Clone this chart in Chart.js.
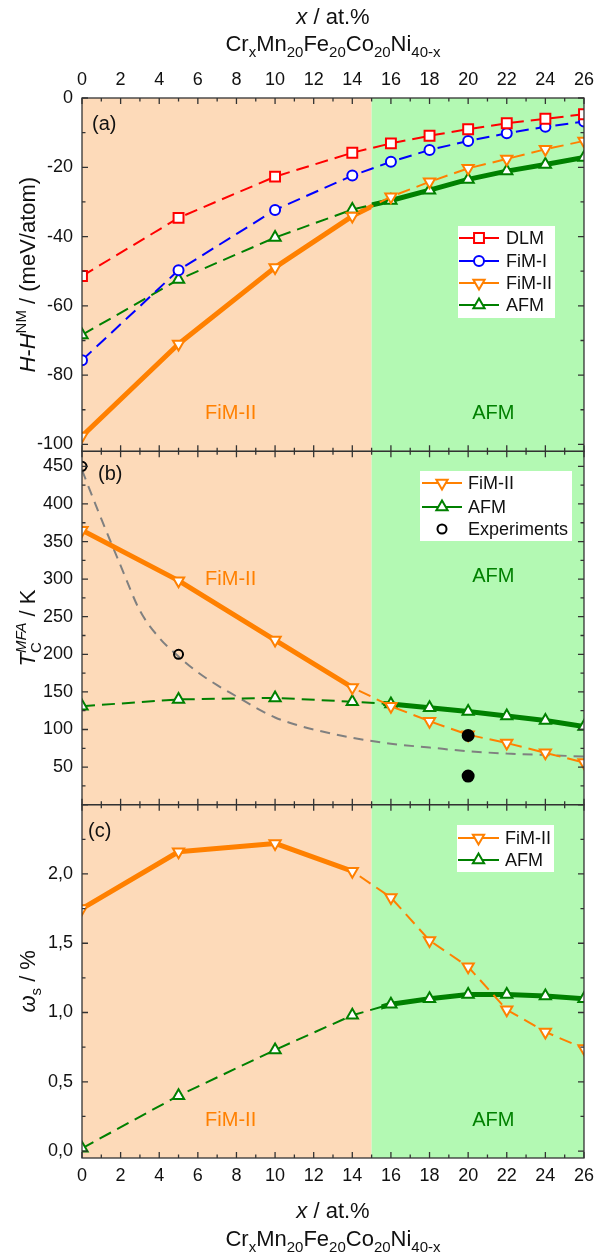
<!DOCTYPE html>
<html>
<head>
<meta charset="utf-8">
<script src="https://cdn.jsdelivr.net/npm/chart.js@4/dist/chart.umd.min.js"></script>
<style>
  html, body { margin: 0; padding: 0; background: #fff; }
</style>
</head>
<body>
<canvas id="myChart" width="601" height="1257"></canvas>
<script>
const ORANGE = '#FF8000', GREEN = '#008000', RED = '#FF0000', BLUE = '#0000FF', GRAY = '#808080';
const PEACH = '#FDDAB9', LIME = '#B3F9B3';
const FONT = '"Liberation Sans", Arial, sans-serif';

// data, x in at.%
const xVals = [0, 5, 10, 14, 16, 18, 20, 22, 24, 26];
const xTicks = [0, 2, 4, 6, 8, 10, 12, 14, 16, 18, 20, 22, 24, 26];
const phaseBoundary = 15;

// (a) H - H^NM (meV/atom)
const dlmA  = [-51.4, -34.6, -22.7, -15.8, -13.1, -10.9, -9.0, -7.3, -6.0, -4.7];
const fim1A = [-75.7, -49.7, -32.3, -22.4, -18.4, -15.0, -12.4, -10.2, -8.3, -6.8];
const fim2A = [-97.6, -71.0, -48.9, -34.1, -28.5, -24.2, -20.3, -17.6, -14.8, -12.4];
const afmA  = [-68.4, -52.4, -40.3, -32.2, -29.6, -26.6, -23.5, -21.1, -19.2, -17.2];
const yTicksA = [-100, -80, -60, -40, -20, 0];

// (b) T_C^MFA (K)
const fim2B = [365, 298, 219, 156, 131, 111, 93, 82, 69, 56];
const afmB  = [131, 140, 142, 137, 134, 129, 124, 118, 112, 104];
const expX = [0, 5, 20, 20];
const expY = [450, 200, 92, 38];
const expFilled = [false, false, true, true];
const fitX = [0, 1, 2, 3, 4, 5, 6, 7, 8, 9, 10, 11, 12, 14, 16, 18, 20, 22, 24, 26];
const fitY = [445, 380, 318, 258, 222, 197, 176, 159, 144, 129, 116, 107, 100, 89, 81, 76, 71, 68, 66, 64];
const yTicksB = [50, 100, 150, 200, 250, 300, 350, 400, 450];

// (c) omega_s (%)
const fim2C = [1.75, 2.16, 2.22, 2.02, 1.83, 1.52, 1.33, 1.02, 0.86, 0.74];
const afmC  = [0.02, 0.40, 0.73, 0.98, 1.06, 1.10, 1.13, 1.13, 1.12, 1.10];
const yTicksC = [0, 0.5, 1, 1.5, 2];

function pts(xs, ys) { return xs.map((x, i) => ({x: x, y: ys[i]})); }

function thick(ys, color, axis, from, to) {
  return {data: pts(xVals, ys), yAxisID: axis, borderColor: color, borderWidth: 5,
    pointRadius: 0, clipX: [from, to], order: 5, borderJoinStyle: 'round'};
}
function dashed(key, label, ys, color, style, rot, r, axis) {
  return {key: key, label: label, data: pts(xVals, ys), yAxisID: axis, borderColor: color,
    borderWidth: 2, borderDash: [13, 7], pointStyle: style, pointRotation: rot, pointRadius: r,
    pointBorderWidth: 2, pointBackgroundColor: '#fff', pointBorderColor: color, order: 1};
}

const datasets = [
  // (a)
  thick(fim2A, ORANGE, 'ya', 0, 15),
  thick(afmA, GREEN, 'ya', 15, 26),
  dashed('dlmA', 'DLM', dlmA, RED, 'rect', 0, 7, 'ya'),
  dashed('fim1A', 'FiM-I', fim1A, BLUE, 'circle', 0, 5, 'ya'),
  dashed('fim2A', 'FiM-II', fim2A, ORANGE, 'triangle', 180, 6.5, 'ya'),
  dashed('afmA', 'AFM', afmA, GREEN, 'triangle', 0, 6.5, 'ya'),
  // (b)
  {data: pts(fitX, fitY), yAxisID: 'yb', borderColor: GRAY, borderWidth: 2, borderDash: [10, 7],
    pointRadius: 0, cubicInterpolationMode: 'monotone', order: 6},
  thick(fim2B, ORANGE, 'yb', 0, 14),
  thick(afmB, GREEN, 'yb', 15.6, 26),
  dashed('fim2B', 'FiM-II', fim2B, ORANGE, 'triangle', 180, 6.5, 'yb'),
  dashed('afmB', 'AFM', afmB, GREEN, 'triangle', 0, 6.5, 'yb'),
  {key: 'exp', label: 'Experiments', data: pts(expX, expY), yAxisID: 'yb', showLine: false,
    borderColor: '#000', pointBorderColor: '#000', pointBorderWidth: 2, pointStyle: 'circle',
    pointRadius: expFilled.map(f => f ? 5.5 : 4.5),
    pointBackgroundColor: expFilled.map(f => f ? '#000' : 'rgba(0,0,0,0)'), order: 0},
  // (c)
  thick(fim2C, ORANGE, 'yc', 0, 14),
  thick(afmC, GREEN, 'yc', 15.5, 26),
  dashed('fim2C', 'FiM-II', fim2C, ORANGE, 'triangle', 180, 6.5, 'yc'),
  dashed('afmC', 'AFM', afmC, GREEN, 'triangle', 0, 6.5, 'yc'),
];

const panels = [
  {id: 'ya', minor: 10, tag: '(a)', tagDx: 10, tagDy: 32},
  {id: 'yb', minor: 25, tag: '(b)', tagDx: 16, tagDy: 29},
  {id: 'yc', minor: 0.25, tag: '(c)', tagDx: 6, tagDy: 32},
];

const regionLabels = [
  {axis: 'ya', x: 7.7, y: -91, text: 'FiM-II', color: ORANGE},
  {axis: 'ya', x: 21.3, y: -91, text: 'AFM', color: GREEN},
  {axis: 'yb', x: 7.7, y: 299, text: 'FiM-II', color: ORANGE},
  {axis: 'yb', x: 21.3, y: 303, text: 'AFM', color: GREEN},
  {axis: 'yc', x: 7.7, y: 0.22, text: 'FiM-II', color: ORANGE},
  {axis: 'yc', x: 21.3, y: 0.22, text: 'AFM', color: GREEN},
];

const legends = [
  {box: [458, 226, 97, 92], x0: 459, x1: 499, tx: 506, rows: [238, 261, 283, 305],
    keys: ['dlmA', 'fim1A', 'fim2A', 'afmA']},
  {box: [420, 471, 152, 70], x0: 422, x1: 462, tx: 468, rows: [483, 507, 529],
    keys: ['fim2B', 'afmB', 'exp']},
  {box: [457, 825, 97, 47], x0: 458, x1: 499, tx: 505, rows: [838, 860],
    keys: ['fim2C', 'afmC']},
];

const xTitle = [{t: 'x', i: 1}, {t: ' / at.%'}];
const formula = [{t: 'Cr'}, {t: 'x', s: 'sub'}, {t: 'Mn'}, {t: '20', s: 'sub'}, {t: 'Fe'},
  {t: '20', s: 'sub'}, {t: 'Co'}, {t: '20', s: 'sub'}, {t: 'Ni'}, {t: '40-x', s: 'sub'}];
const yTitles = {
  ya: [{t: 'H', i: 1}, {t: '-'}, {t: 'H', i: 1}, {t: 'NM', s: 'sup'}, {t: ' / (meV/atom)'}],
  yb: [{t: 'T', i: 1}, {t: 'C', s: 'sub'}, {t: 'MFA', s: 'sup', i: 1, over: 1}, {t: ' / K'}],
  yc: [{t: 'ω', i: 1}, {t: 's', s: 'sub'}, {t: ' / %'}],
};

function drawRich(ctx, runs, cx, cy, size, rotate) {
  ctx.save();
  ctx.translate(cx, cy);
  if (rotate) ctx.rotate(-Math.PI / 2);
  let x = 0, prevStart = 0, prevEnd = 0;
  const laid = [];
  for (const r of runs) {
    const fs = r.s ? Math.round(size * 0.68) : size;
    ctx.font = (r.i ? 'italic ' : '') + fs + 'px ' + FONT;
    const w = ctx.measureText(r.t).width;
    const start = r.over ? prevStart : x;
    const end = start + w;
    laid.push({r: r, start: start, font: ctx.font});
    x = r.over ? Math.max(prevEnd, end) : end;
    prevStart = start; prevEnd = end;
  }
  ctx.textAlign = 'left';
  ctx.textBaseline = 'alphabetic';
  ctx.fillStyle = '#111';
  for (const l of laid) {
    ctx.font = l.font;
    const dy = l.r.s === 'sub' ? size * 0.28 : (l.r.s === 'sup' ? -size * 0.42 : 0);
    ctx.fillText(l.r.t, l.start - x / 2, dy);
  }
  ctx.restore();
}

function drawMarker(ctx, ds, x, y) {
  const r = Array.isArray(ds.pointRadius) ? ds.pointRadius[0] : ds.pointRadius;
  ctx.beginPath();
  if (ds.pointStyle === 'rect') {
    const s = r * Math.SQRT1_2;
    ctx.rect(x - s, y - s, 2 * s, 2 * s);
  } else if (ds.pointStyle === 'triangle') {
    const d = ds.pointRotation === 180 ? -1 : 1;
    ctx.moveTo(x, y - d * r);
    ctx.lineTo(x + r * 0.866, y + d * r * 0.5);
    ctx.lineTo(x - r * 0.866, y + d * r * 0.5);
    ctx.closePath();
  } else {
    ctx.arc(x, y, r, 0, 2 * Math.PI);
  }
  ctx.fillStyle = Array.isArray(ds.pointBackgroundColor) ? ds.pointBackgroundColor[0] : ds.pointBackgroundColor;
  ctx.fill();
  ctx.setLineDash([]);
  ctx.lineWidth = ds.pointBorderWidth;
  ctx.strokeStyle = ds.pointBorderColor;
  ctx.stroke();
}

const panelPlugin = {
  id: 'panels',
  beforeDatasetsDraw(chart) {
    const ctx = chart.ctx, xs = chart.scales.x;
    const xb = xs.getPixelForValue(phaseBoundary);
    ctx.save();
    for (const p of panels) {
      const ys = chart.scales[p.id];
      ctx.fillStyle = PEACH;
      ctx.fillRect(xs.left, ys.top, xb - xs.left, ys.bottom - ys.top);
      ctx.fillStyle = LIME;
      ctx.fillRect(xb, ys.top, xs.right - xb, ys.bottom - ys.top);
    }
    ctx.font = '20px ' + FONT;
    ctx.textAlign = 'center';
    ctx.textBaseline = 'middle';
    for (const l of regionLabels) {
      ctx.fillStyle = l.color;
      ctx.fillText(l.text, xs.getPixelForValue(l.x), chart.scales[l.axis].getPixelForValue(l.y));
    }
    ctx.restore();
  },
  beforeDatasetDraw(chart, args) {
    const ds = chart.data.datasets[args.index];
    if (!ds.clipX) return;
    const ctx = chart.ctx, xs = chart.scales.x, ys = chart.scales[ds.yAxisID];
    const a = xs.getPixelForValue(ds.clipX[0]), b = xs.getPixelForValue(ds.clipX[1]);
    ctx.save();
    ctx.beginPath();
    ctx.rect(a, ys.top, b - a, ys.bottom - ys.top);
    ctx.clip();
  },
  afterDatasetDraw(chart, args) {
    if (chart.data.datasets[args.index].clipX) chart.ctx.restore();
  },
  afterDatasetsDraw(chart) {
    const ctx = chart.ctx, xs = chart.scales.x;
    ctx.save();
    ctx.strokeStyle = '#333';
    ctx.lineWidth = 1.3;
    for (const p of panels) {
      const ys = chart.scales[p.id];
      const L = xs.left, R = xs.right, T = ys.top, B = ys.bottom;
      ctx.beginPath();
      for (let v = xs.min; v <= xs.max + 1e-9; v += 1) {
        const px = xs.getPixelForValue(v);
        const len = v % 2 === 0 ? 6 : 3.5;
        ctx.moveTo(px, T); ctx.lineTo(px, T + len);
        ctx.moveTo(px, B); ctx.lineTo(px, B - len);
      }
      const first = Math.ceil(ys.min / p.minor) * p.minor;
      for (let v = first; v <= ys.max + 1e-9; v += p.minor) {
        const py = ys.getPixelForValue(v);
        const q = v / (2 * p.minor);
        const len = Math.abs(q - Math.round(q)) < 1e-6 ? 6 : 3.5;
        ctx.moveTo(L, py); ctx.lineTo(L + len, py);
        ctx.moveTo(R, py); ctx.lineTo(R - len, py);
      }
      ctx.stroke();
      ctx.strokeRect(L, T, R - L, B - T);
      ctx.fillStyle = '#111';
      ctx.font = '20px ' + FONT;
      ctx.textAlign = 'left';
      ctx.textBaseline = 'alphabetic';
      ctx.fillText(p.tag, L + p.tagDx, T + p.tagDy);
    }
    // legends
    for (const lg of legends) {
      ctx.fillStyle = '#fff';
      ctx.fillRect(lg.box[0], lg.box[1], lg.box[2], lg.box[3]);
      lg.keys.forEach((k, i) => {
        const ds = chart.data.datasets.find(d => d.key === k);
        const y = lg.rows[i];
        if (ds.showLine !== false) {
          ctx.setLineDash([]);
          ctx.strokeStyle = ds.borderColor;
          ctx.lineWidth = 2;
          ctx.beginPath();
          ctx.moveTo(lg.x0, y); ctx.lineTo(lg.x1, y);
          ctx.stroke();
        }
        drawMarker(ctx, ds, (lg.x0 + lg.x1) / 2, y);
        ctx.fillStyle = '#111';
        ctx.font = '18px ' + FONT;
        ctx.textAlign = 'left';
        ctx.textBaseline = 'middle';
        ctx.fillText(ds.label, lg.tx, y + 1);
      });
    }
    ctx.restore();
  },
  afterDraw(chart) {
    const ctx = chart.ctx, xs = chart.scales.x;
    const cx = (xs.left + xs.right) / 2;
    drawRich(ctx, xTitle, cx, 24, 22, false);
    drawRich(ctx, formula, cx, 51, 22, false);
    drawRich(ctx, xTitle, cx, 1218, 22, false);
    drawRich(ctx, formula, cx, 1246, 22, false);
    for (const p of panels) {
      const ys = chart.scales[p.id];
      drawRich(ctx, yTitles[p.id], 35, (ys.top + ys.bottom) / 2, 22, true);
    }
  }
};

const tickFont = {family: FONT, size: 18};
function xAxis(pos, h) {
  return {
    type: 'linear', position: pos, min: 0, max: 26,
    grid: {display: false, drawTicks: false}, border: {display: false},
    ticks: {font: tickFont, color: '#111', padding: 7, maxRotation: 0, autoSkip: false},
    afterBuildTicks: s => { s.ticks = xTicks.map(v => ({value: v})); },
    afterFit: s => { s.height = h; }
  };
}
function yAxis(min, max, ticks, fmt) {
  return {
    type: 'linear', position: 'left', stack: 'panels', stackWeight: 1, min: min, max: max,
    grid: {display: false, drawTicks: false}, border: {display: false},
    ticks: {font: tickFont, color: '#111', padding: 9, callback: fmt},
    afterBuildTicks: s => { s.ticks = ticks.map(v => ({value: v})); },
    afterFit: s => { s.width = 82; }
  };
}

const config = {
  type: 'line',
  data: {datasets: datasets},
  options: {
    responsive: false,
    animation: false,
    events: [],
    layout: {padding: {left: 0, right: 13, top: 0, bottom: 0}},
    plugins: {legend: {display: false}, tooltip: {enabled: false}},
    scales: {
      x: xAxis('bottom', 99),
      xt: xAxis('top', 98),
      yc: yAxis(-0.05, 2.5, yTicksC, v => v.toFixed(1).replace('.', ',')),
      yb: yAxis(0, 470, yTicksB, v => String(v)),
      ya: yAxis(-102, 0, yTicksA, v => String(v)),
    }
  },
  plugins: [panelPlugin]
};

var myChart = new Chart(document.getElementById('myChart').getContext('2d'), config);
</script>
</body>
</html>
